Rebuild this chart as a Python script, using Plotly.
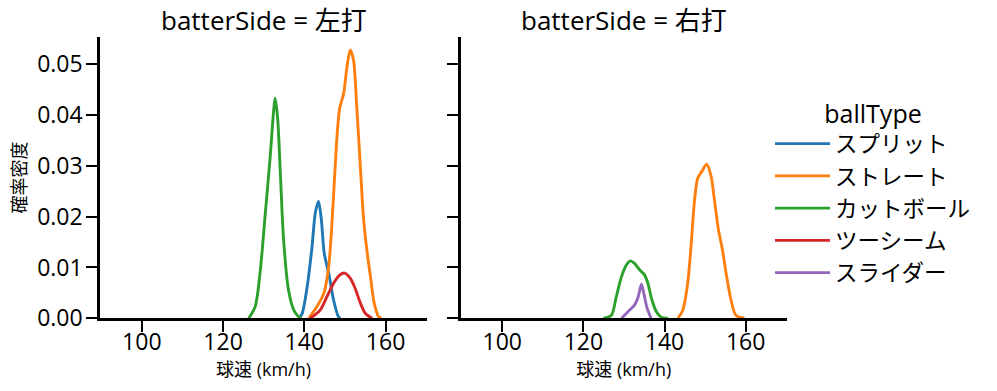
import plotly.graph_objects as go

FONT = "Open Sans, Noto Sans CJK JP, sans-serif"
W, H = 997, 391

# ---------------- data ----------------
panels = ["左打", "右打"]
ball_types = ["スプリット", "ストレート", "カットボール", "ツーシーム", "スライダー"]
colors = ["#1f77b4", "#ff7f0e", "#2ca02c", "#d62728", "#9467bd"]

# 左打
L_split_x = [138.6, 139.4, 140.7, 141.9, 142.7, 143.5, 144.2, 144.9, 146.0, 147.2, 148.4, 148.9]
L_split_y = [0.0, 0.0008, 0.0062, 0.0141, 0.0207, 0.0230, 0.0193, 0.0128, 0.0089, 0.0036, 0.0003, 0.0]

L_straight_x = [141.1, 143.1, 144.8, 146.0, 146.8, 147.5, 148.1, 148.7, 149.7, 150.5, 151.3, 152.1,
                152.9, 153.8, 154.6, 155.4, 156.4, 157.2, 158.3, 159.0]
L_straight_y = [0.0, 0.0023, 0.0049, 0.0102, 0.0187, 0.0285, 0.0364, 0.0413, 0.0443, 0.0495, 0.0528, 0.0508,
                0.0417, 0.0298, 0.0194, 0.0134, 0.0075, 0.0030, 0.0003, 0.0]

L_cut_x = [126.3, 127.9, 129.1, 130.4, 131.6, 132.4, 132.8, 133.4, 134.1, 134.9, 136.1, 137.4, 138.6, 139.2]
L_cut_y = [0.0, 0.0023, 0.0089, 0.0207, 0.0318, 0.0404, 0.0433, 0.0397, 0.0285, 0.0154, 0.0056, 0.0016, 0.0003, 0.0]

L_two_x = [141.5, 143.9, 145.6, 147.2, 148.7, 149.9, 151.3, 152.5, 153.8, 155.0, 156.7]
L_two_y = [0.0, 0.0016, 0.0043, 0.0069, 0.0085, 0.0089, 0.0079, 0.0059, 0.0030, 0.0010, 0.0]

# 右打
R_straight_x = [143.3, 144.5, 145.7, 146.6, 147.4, 148.2, 149.2, 150.4, 151.5, 152.3, 153.3, 154.3,
                155.2, 156.4, 157.6, 159.7]
R_straight_y = [0.0, 0.0016, 0.0068, 0.0148, 0.0232, 0.0276, 0.0289, 0.0303, 0.0279, 0.0233, 0.0174, 0.0134,
                0.0088, 0.0036, 0.0006, 0.0]

R_cut_x = [124.9, 126.9, 128.1, 129.4, 130.6, 131.6, 132.6, 133.9, 135.1, 135.9, 136.9, 138.0, 139.2, 140.9]
R_cut_y = [0.0, 0.0006, 0.0042, 0.0082, 0.0105, 0.0113, 0.0108, 0.0095, 0.0085, 0.0069, 0.0036, 0.0013, 0.0002, 0.0]

R_slider_x = [129.4, 131.0, 132.6, 133.5, 134.3, 134.9, 135.7, 136.7]
R_slider_y = [0.0, 0.0013, 0.0026, 0.0042, 0.0067, 0.0049, 0.0020, 0.0]

x_ticks = [100, 120, 140, 160]
y_ticks = [0.0, 0.01, 0.02, 0.03, 0.04, 0.05]
x_range = [89.7, 170.2]
y_range = [0.0, 0.0554]

curves = [
    # (panel index, ball type index, xs, ys)
    (0, 0, L_split_x, L_split_y),
    (0, 1, L_straight_x, L_straight_y),
    (0, 2, L_cut_x, L_cut_y),
    (0, 3, L_two_x, L_two_y),
    (1, 1, R_straight_x, R_straight_y),
    (1, 2, R_cut_x, R_cut_y),
    (1, 4, R_slider_x, R_slider_y),
]

# ---------------- layout geometry (window pixels -> paper fractions) ----------------
def px_x(p):
    return p / W

def px_y(p):
    return 1 - p / H

left_dom = [px_x(100), px_x(427)]
right_dom = [px_x(460.5), px_x(787)]
y_dom = [px_y(318.3), px_y(36.7)]

fig = go.Figure()
shown = set()
for pi, bi, xs, ys in curves:
    fig.add_trace(go.Scatter(
        x=xs, y=ys, mode="lines",
        line=dict(color=colors[bi], width=2.9, shape="spline", smoothing=0.8),
        name=ball_types[bi], legendgroup=ball_types[bi],
        showlegend=bi not in shown, legendrank=bi + 1,
        xaxis="x" if pi == 0 else "x2", yaxis="y" if pi == 0 else "y2",
        hoverinfo="skip",
    ))
    shown.add(bi)

axis_common = dict(
    showgrid=False, zeroline=False, showline=True, linecolor="black", linewidth=2.5,
    ticks="outside", ticklen=11, tickwidth=2.2, tickcolor="black", automargin=False,
    tickfont=dict(family=FONT, size=23, color="black"),
)

xtitle = dict(text="球速 (km/h)", font=dict(family=FONT, size=18), standoff=3)

fig.update_layout(
    template="none",
    width=W, height=H,
    margin=dict(l=0, r=0, t=0, b=0, pad=0),
    paper_bgcolor="white", plot_bgcolor="white",
    font=dict(family=FONT, color="black"),
    xaxis=dict(domain=left_dom, range=x_range, tickvals=x_ticks, anchor="y",
               title=xtitle, ticklabelstandoff=-10, **axis_common),
    xaxis2=dict(domain=right_dom, range=x_range, tickvals=x_ticks, anchor="y2",
                title=xtitle, ticklabelstandoff=-10, **axis_common),
    yaxis=dict(domain=y_dom, range=y_range, tickvals=y_ticks, tickformat=".2f", anchor="x",
               title=dict(text="確率密度", font=dict(family=FONT, size=18), standoff=6),
               ticklabelstandoff=-1, **axis_common),
    yaxis2=dict(domain=y_dom, range=y_range, tickvals=y_ticks, showticklabels=False, anchor="x2",
                **axis_common),
    legend=dict(
        title=dict(text="ballType", side="top center", font=dict(family=FONT, size=25)),
        font=dict(family=FONT, size=22.5, color="black"),
        x=px_x(770), y=px_y(90), xanchor="left", yanchor="top",
        bgcolor="rgba(0,0,0,0)", borderwidth=0, itemwidth=55, tracegroupgap=0,
    ),
    showlegend=True,
)

for i, side in enumerate(panels):
    dom = left_dom if i == 0 else right_dom
    fig.add_annotation(
        text=f"batterSide = {side}", x=(dom[0] + dom[1]) / 2, y=px_y(20),
        xref="paper", yref="paper", xanchor="center", yanchor="middle",
        showarrow=False, font=dict(family=FONT, size=26, color="black"),
    )

# remove the browser's default 8px page margin so the figure fills the window exactly
fig.write_html("out.html", config={"displayModeBar": False},
               post_script="document.body.style.margin='0';")
